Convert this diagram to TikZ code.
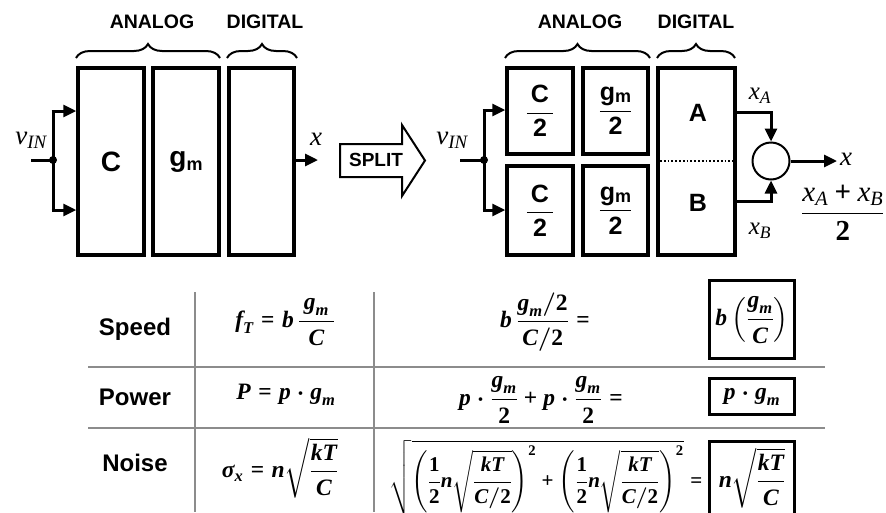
\RequirePackage{fix-cm}
\documentclass[tikz,border=0pt]{standalone}
\usepackage{amsmath}
\usepackage{fontspec}
\setmainfont{Liberation Serif}
\setsansfont{Liberation Sans}
\usetikzlibrary{arrows.meta,decorations.pathreplacing,calc}
\definecolor{tgray}{RGB}{140,140,140}
\newcommand\bi[1]{\text{\bfseries\itshape #1}}
\newcommand\mi[1]{\text{\itshape #1}}
\newcommand\bu[1]{\text{\bfseries #1}}
\newcommand\EQ{\mathrel{\text{\bfseries =}}}
\newcommand\PL{\mathbin{\text{\bfseries +}}}
\newcommand\fs[1]{\fontsize{#1}{#1}\selectfont}
\begin{document}
\begin{tikzpicture}[x=1pt,y=-1pt,
  blk/.style={draw,line width=3.5pt,inner sep=0pt},
  arr/.style={line width=3pt,-{Triangle[length=13pt,width=12pt]}},
  wire/.style={line width=3pt},
  brlbl/.style={font=\sffamily\bfseries\fs{19.5}},
  brc/.style={decorate,decoration={brace,amplitude=14pt},line width=2pt},
  tline/.style={draw=tgray,line width=2.5pt},
  res/.style={draw,line width=3pt,inner sep=0pt,minimum width=85pt},
  big/.style={font=\sffamily\bfseries\fs{28}},
  mid/.style={font=\sffamily\bfseries\fs{25}},
  lab/.style={font=\fs{25},inner sep=0pt},
  rowl/.style={font=\sffamily\bfseries\fs{24}},
  eq/.style={font=\fs{23.5}\boldmath,inner sep=0pt}
]
\useasboundingbox (0,0) rectangle (886,512);

% ---------- left diagram ----------
\node[brlbl] (an1) at (152,22) {ANALOG};
\node[brlbl] (di1) at (265,22) {DIGITAL};
\draw[brc] (76,58) -- (220,58);
\draw[brc] (227,58) -- (297,58);

\node[blk,minimum width=66pt,minimum height=187pt,big] (C1) at (111,161.5) {C};
\node[blk,minimum width=66pt,minimum height=187pt,big] (G1) at (186,161.5) {g\raisebox{-4pt}{\fs{18}m}};
\node[blk,minimum width=65pt,minimum height=187pt] (D1) at (261.5,161.5) {};

\coordinate (in1) at (31,160);
\coordinate (j1) at (53,160);
\coordinate (j1t) at (53,111);
\coordinate (j1b) at (53,210);
\draw[wire] (in1) -- (j1);
\draw[wire] (j1t) -- (j1b);
\draw[arr] ([xshift=-1.5pt]j1t) -- (j1t -| C1.west);
\draw[arr] ([xshift=-1.5pt]j1b) -- (j1b -| C1.west);
\fill (j1) circle (4pt);
\node[lab,font=\fs{27}] (vin1) at (31,140) {$\mi{v}_{\mi{IN}}$};
\coordinate (xo1) at (318,160);
\draw[arr] (D1.east |- xo1) -- (xo1);
\node[lab,font=\fs{27}] (x1) at (316,139) {$\mi{x}$};

% ---------- split arrow ----------
\draw[line width=2pt] (340,144) -- (402,144) -- (402,125) -- (425,160.5) -- (402,196) -- (402,177) -- (340,177) -- cycle;
\node[font=\sffamily\bfseries\fs{19}] (split) at (376,160) {SPLIT};

% ---------- right diagram ----------
\node[brlbl] (an2) at (580,22) {ANALOG};
\node[brlbl] (di2) at (696,22) {DIGITAL};
\draw[brc] (505,58) -- (650,58);
\draw[brc] (657,58) -- (735,58);

\node[blk,minimum width=66pt,minimum height=86pt,mid] (C2a) at (540,111) {$\dfrac{\text{\,C\,}}{\text{2}}$};
\node[blk,minimum width=66pt,minimum height=89pt,mid] (C2b) at (540,210.5) {$\dfrac{\text{\,C\,}}{\text{2}}$};
\node[blk,minimum width=65pt,minimum height=86pt,mid] (G2a) at (615.5,111) {$\dfrac{\text{g\raisebox{-2pt}{\fs{18}m}}}{\text{2}}$};
\node[blk,minimum width=65pt,minimum height=89pt,mid] (G2b) at (615.5,210.5) {$\dfrac{\text{g\raisebox{-2pt}{\fs{18}m}}}{\text{2}}$};
\node[blk,minimum width=77pt,minimum height=187pt] (D2) at (696.5,161.5) {};
\draw[dotted,line width=1.8pt] (D2.west |- 0,161) -- (D2.east |- 0,161);
\node[mid] (A) at (698,113) {A};
\node[mid] (B) at (698,203) {B};

\coordinate (in2) at (460,160);
\coordinate (j2) at (484,160);
\coordinate (j2t) at (484,110);
\coordinate (j2b) at (484,210);
\draw[wire] (in2) -- (j2);
\draw[wire] (j2t) -- (j2b);
\draw[arr] ([xshift=-1.5pt]j2t) -- (j2t -| C2a.west);
\draw[arr] ([xshift=-1.5pt]j2b) -- (j2b -| C2b.west);
\fill (j2) circle (4pt);
\node[lab,font=\fs{27}] (vin2) at (452,140) {$\mi{v}_{\mi{IN}}$};

\node[draw,circle,line width=2pt,minimum size=37pt,inner sep=0pt] (S) at (771,161) {};
\coordinate (xa) at (735,112);
\coordinate (xb) at (735,201);
\draw[arr] (xa) -| (S.north);
\draw[arr] (xb) -| (S.south);
\coordinate (xo2) at (837,161);
\draw[arr] (S.east) -- (xo2);
\node[lab,font=\fs{27}] (x2) at (846,159) {$\mi{x}$};
\node[lab] (xal) at (760,96) {$\mi{x}_{\mi{A}}$};
\node[lab] (xbl) at (760,231) {$\mi{x}_{\mi{B}}$};
\node[lab,anchor=west,font=\fs{29}] (avg) at (801,213) {$\dfrac{\mi{x}_{\mi{A}}\PL\mi{x}_{\mi{B}}}{\bu{2}}$};

% ---------- table ----------
\draw[tline] (195,292) -- (195,512);
\draw[tline] (374,292) -- (374,512);
\draw[tline] (88,367) -- (825,367);
\draw[tline] (88,428) -- (825,428);

\node[rowl] (sp) at (135,329) {Speed};
\node[rowl] (pw) at (135,397) {Power};
\node[rowl] (ns) at (135,463) {Noise};

\node[eq] (e11) at (285,322) {$\bi{f}_{\bi{T}} \EQ \bi{b}\,\dfrac{\,\bi{g}_{\bi{m}}\,}{\bi{C}}$};
\node[eq] (e21) at (286,395) {$\bi{P} \EQ \bi{p}\cdot\bi{g}_{\bi{m}}$};
\node[eq] (e31) at (280,468) {$\bi{σ}_{\bi{x}} \EQ \bi{n}\sqrt{\dfrac{\bi{kT}}{\bi{C}}}$};

\node[eq] (e12) at (545,322) {$\bi{b}\,\dfrac{\bi{g}_{\bi{m}}/\bu{2}}{\bi{C}/\bu{2}} \EQ$};
\node[eq] (e22) at (541,400) {$\bi{p}\cdot\dfrac{\bi{g}_{\bi{m}}}{\bu{2}} \PL \bi{p}\cdot\dfrac{\bi{g}_{\bi{m}}}{\bu{2}} \EQ$};
\node[eq,font=\fs{21}\boldmath] (e32) at (546,478) {$\sqrt{\left(\dfrac{\bu{1}}{\bu{2}}\bi{n}\sqrt{\dfrac{\bi{kT}}{\bi{C}/\bu{2}}}\right)^{\bu{2}} \PL \left(\dfrac{\bu{1}}{\bu{2}}\bi{n}\sqrt{\dfrac{\bi{kT}}{\bi{C}/\bu{2}}}\right)^{\bu{2}}} \EQ$};

\node[res,minimum height=78pt] (r1) at (752,319.5) {};
\node[eq] (e13) at (752,320) {$\bi{b}\left(\dfrac{\bi{g}_{\bi{m}}}{\bi{C}}\right)$};
\node[res,minimum height=36pt] (r2) at (752,396.5) {};
\node[eq] (e23) at (752,397) {$\bi{p}\cdot\bi{g}_{\bi{m}}$};
\node[res,minimum height=100pt] (r3) at (752,491.5) {};
\node[eq] (e33) at (752,478) {$\bi{n}\sqrt{\dfrac{\bi{kT}}{\bi{C}}}$};
\end{tikzpicture}
\end{document}
